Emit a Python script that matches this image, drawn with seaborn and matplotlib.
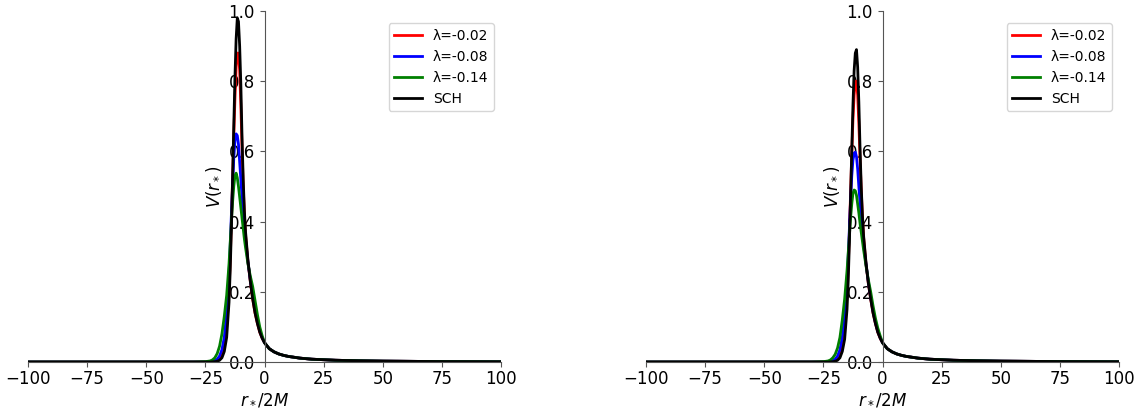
import numpy as np
import pandas as pd
import matplotlib
matplotlib.use("Agg")
import matplotlib.pyplot as plt
import seaborn as sns

R_STAR = [-100, -30, -25, -24, -23, -22, -21, -20, -19, -18, -17, -16, -15, -14.5, -14,
          -13.5, -13, -12.5, -12, -11.5, -11, -10.5, -10, -9.5, -9, -8.5, -8, -7, -6, -5,
          -4, -3, -2, -1, 0, 2, 4, 6, 8, 10, 15, 20, 25, 30, 40, 50, 60, 75, 100]

LABELS = ["λ=-0.02", "λ=-0.08", "λ=-0.14", "SCH"]
COLORS = ["red", "blue", "green", "black"]

TAIL = [0.055, 0.038, 0.029, 0.023, 0.019, 0.016, 0.011, 0.008, 0.0065, 0.005, 0.0035, 0.0025, 0.002, 0.0012, 0.0006]

L_RED = [0, 0, 0, 0, 0, 0.001, 0.002, 0.004, 0.009, 0.02, 0.045, 0.1, 0.2, 0.29, 0.4,
         0.52, 0.64, 0.75, 0.84, 0.88, 0.88, 0.83, 0.73, 0.61, 0.5, 0.42, 0.36, 0.285, 0.23, 0.18,
         0.14, 0.11, 0.085, 0.068] + TAIL
L_BLUE = [0, 0, 0, 0, 0.001, 0.002, 0.004, 0.008, 0.017, 0.035, 0.07, 0.14, 0.25, 0.33, 0.42,
          0.5, 0.58, 0.63, 0.65, 0.645, 0.62, 0.57, 0.52, 0.47, 0.42, 0.38, 0.345, 0.285, 0.235, 0.19,
          0.15, 0.115, 0.09, 0.07] + TAIL
L_GREEN = [0, 0, 0.001, 0.002, 0.003, 0.006, 0.012, 0.024, 0.045, 0.08, 0.13, 0.19, 0.28, 0.34, 0.4,
           0.455, 0.5, 0.53, 0.538, 0.525, 0.5, 0.47, 0.44, 0.41, 0.38, 0.35, 0.325, 0.28, 0.245, 0.215,
           0.175, 0.135, 0.1, 0.075] + TAIL
L_SCH = [0, 0, 0, 0, 0, 0.0005, 0.001, 0.002, 0.005, 0.012, 0.03, 0.07, 0.17, 0.26, 0.38,
         0.52, 0.67, 0.81, 0.92, 0.98, 0.97, 0.9, 0.79, 0.64, 0.52, 0.43, 0.37, 0.29, 0.23, 0.18,
         0.14, 0.11, 0.085, 0.068] + TAIL

R_RED = [0, 0, 0, 0, 0, 0.001, 0.002, 0.004, 0.009, 0.02, 0.045, 0.095, 0.19, 0.27, 0.37,
         0.48, 0.59, 0.69, 0.76, 0.8, 0.8, 0.76, 0.68, 0.58, 0.49, 0.415, 0.355, 0.28, 0.225, 0.18,
         0.14, 0.11, 0.085, 0.068] + TAIL
R_BLUE = [0, 0, 0, 0, 0.001, 0.002, 0.004, 0.008, 0.017, 0.035, 0.07, 0.13, 0.23, 0.3, 0.38,
          0.46, 0.53, 0.575, 0.595, 0.598, 0.585, 0.55, 0.5, 0.455, 0.41, 0.37, 0.335, 0.28, 0.23, 0.185,
          0.145, 0.113, 0.088, 0.07] + TAIL
R_GREEN = [0, 0, 0.001, 0.002, 0.003, 0.006, 0.012, 0.022, 0.04, 0.07, 0.12, 0.18, 0.26, 0.31, 0.36,
           0.41, 0.45, 0.48, 0.49, 0.488, 0.475, 0.45, 0.425, 0.395, 0.37, 0.345, 0.32, 0.275, 0.235, 0.2,
           0.16, 0.125, 0.097, 0.075] + TAIL
R_SCH = [0, 0, 0, 0, 0, 0.0005, 0.001, 0.002, 0.005, 0.012, 0.03, 0.065, 0.15, 0.23, 0.34,
         0.47, 0.6, 0.73, 0.83, 0.88, 0.89, 0.84, 0.74, 0.61, 0.5, 0.42, 0.36, 0.285, 0.225, 0.18,
         0.14, 0.11, 0.085, 0.068] + TAIL

X_TICKS = [-100, -75, -50, -25, 0, 25, 50, 75, 100]
Y_TICKS = [0.0, 0.2, 0.4, 0.6, 0.8, 1.0]


def make_df(series):
    rows = []
    for lab, vals in zip(LABELS, series):
        for x, v in zip(R_STAR, vals):
            rows.append({"r": x, "V": v, "series": lab})
    return pd.DataFrame(rows)


fig = plt.figure(figsize=(11.42, 4.13), dpi=100)
ax1 = fig.add_axes([28 / 1142, 51 / 413, 473 / 1142, 351 / 413])
ax2 = fig.add_axes([646 / 1142, 51 / 413, 473 / 1142, 351 / 413])

for ax, series in [(ax1, [L_RED, L_BLUE, L_GREEN, L_SCH]), (ax2, [R_RED, R_BLUE, R_GREEN, R_SCH])]:
    df = make_df(series)
    sns.lineplot(data=df, x="r", y="V", hue="series", hue_order=LABELS,
                 palette=dict(zip(LABELS, COLORS)), linewidth=2, ax=ax, sort=False)
    ax.set_xlim(-100, 100)
    ax.set_ylim(0, 1.0)
    ax.set_xticks(X_TICKS)
    ax.set_yticks(Y_TICKS)
    ax.spines["left"].set_position(("data", 0))
    ax.spines["bottom"].set_position(("data", 0))
    ax.spines["top"].set_visible(False)
    ax.spines["right"].set_visible(False)
    for s in ("left", "bottom"):
        ax.spines[s].set_color("#555555")
    ax.tick_params(axis="both", labelsize=12, colors="#555555", labelcolor="black")
    ax.tick_params(axis="x", pad=2.5)
    ax.set_xlabel("$r_*/2M$", fontsize=12, labelpad=1.5)
    ax.set_ylabel("$V(r_*)$", fontsize=12)
    leg = ax.legend(loc="upper right", fontsize=10, bbox_to_anchor=(1.0, 0.985))
    leg.set_title(None)

fig.canvas.draw()
fig.savefig("out.png", dpi=100)
